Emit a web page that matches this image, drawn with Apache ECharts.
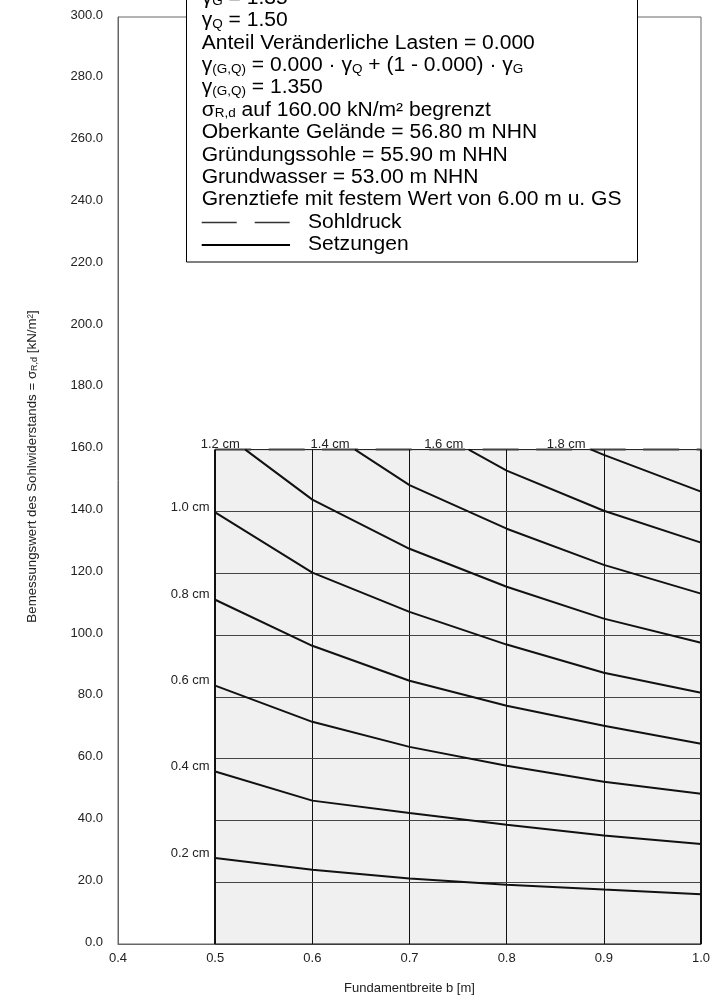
<!DOCTYPE html>
<html>
<head>
<meta charset="utf-8">
<script src="https://cdn.jsdelivr.net/npm/echarts@6/dist/echarts.min.js"></script>
<style>
html,body{margin:0;padding:0;background:#fff;}
#chart{width:724px;height:1002px;}
</style>
</head>
<body>
<div id="chart"></div>
<script>
// ---- data ----
const xTicksMin = 0.4, xTicksMax = 1.0, xInterval = 0.1;
const yMin = 0, yMax = 300, yInterval = 20;

// Sohldruck limit (sigma_R,d capped) and the evaluated width range
const sohldruckLimit = 160;
const widthRange = [0.5, 1.0];
const innerGridX = [0.6, 0.7, 0.8, 0.9];
const innerGridY = [20, 40, 60, 80, 100, 120, 140];

// settlement isolines [b (m), sigma (kN/m²)]
const settlementNames = ['0.2 cm','0.4 cm','0.6 cm','0.8 cm','1.0 cm','1.2 cm','1.4 cm','1.6 cm','1.8 cm'];
const s02 = [[0.5,27.8],[0.6,24.0],[0.7,21.2],[0.8,19.2],[0.9,17.6],[1.0,16.1]];
const s04 = [[0.5,55.8],[0.6,46.4],[0.7,42.4],[0.8,38.6],[0.9,35.1],[1.0,32.4]];
const s06 = [[0.5,83.6],[0.6,71.9],[0.7,63.8],[0.8,57.7],[0.9,52.5],[1.0,48.6]];
const s08 = [[0.5,111.4],[0.6,96.5],[0.7,85.2],[0.8,77.1],[0.9,70.6],[1.0,64.8]];
const s10 = [[0.5,139.7],[0.6,120.2],[0.7,107.5],[0.8,96.9],[0.9,87.8],[1.0,81.3]];
const s12 = [[0.531,160],[0.6,143.8],[0.7,127.9],[0.8,115.6],[0.9,105.3],[1.0,97.5]];
const s14 = [[0.644,160],[0.7,148.5],[0.8,134.4],[0.9,122.7],[1.0,113.4]];
const s16 = [[0.761,160],[0.8,153.2],[0.9,140.2],[1.0,129.9]];
const s18 = [[0.887,160],[0.9,158.3],[1.0,146.4]];
const settlementData = [s02,s04,s06,s08,s10,s12,s14,s16,s18];

const legendLines = [
  'γ{s|G} = 1.35',
  'γ{s|Q} = 1.50',
  'Anteil Veränderliche Lasten = 0.000',
  'γ{s|(G,Q)} = 0.000 · γ{s|Q} + (1 - 0.000) · γ{s|G}',
  'γ{s|(G,Q)} = 1.350',
  'σ{s|R,d} auf 160.00 kN/m² begrenzt',
  'Oberkante Gelände = 56.80 m NHN',
  'Gründungssohle = 55.90 m NHN',
  'Grundwasser = 53.00 m NHN',
  'Grenztiefe mit festem Wert von 6.00 m u. GS'
];
const legendSohldruck = 'Sohldruck';
const legendSetzungen = 'Setzungen';

// ---- chart ----
const FONT = '"Liberation Sans", Arial, Helvetica, sans-serif';
const chart = echarts.init(document.getElementById('chart'), null, {renderer: 'canvas'});

const markLineData = [];
innerGridX.forEach(x => markLineData.push([
  {coord: [x, 0], lineStyle: {color: '#111', width: 1, type: 'solid'}},
  {coord: [x, sohldruckLimit]}
]));
innerGridY.forEach(y => markLineData.push([
  {coord: [widthRange[0], y], lineStyle: {color: '#444', width: 1, type: 'solid'}},
  {coord: [widthRange[1], y]}
]));
widthRange.forEach(x => markLineData.push([
  {coord: [x, 0], lineStyle: {color: '#111', width: 2, type: 'solid'}},
  {coord: [x, sohldruckLimit]}
]));

const series = [];
series.push({
  name: legendSohldruck,
  type: 'line',
  data: [[widthRange[0], sohldruckLimit], [widthRange[1], sohldruckLimit]],
  symbol: 'none',
  silent: true,
  z: 3,
  lineStyle: {color: '#444', width: 2, type: [36, 17.5]},
  markArea: {
    silent: true,
    itemStyle: {color: '#f0f0f0', borderColor: '#111', borderWidth: 1},
    data: [[{coord: [widthRange[0], 0]}, {coord: [widthRange[1], sohldruckLimit]}]]
  },
  markLine: {
    silent: true,
    symbol: ['none', 'none'],
    label: {show: false},
    animation: false,
    data: markLineData
  }
});

settlementData.forEach((d, i) => {
  series.push({
    name: settlementNames[i],
    type: 'line',
    z: 5,
    symbol: 'circle',
    symbolSize: 1,
    showAllSymbol: true,
    itemStyle: {color: '#111'},
    lineStyle: {color: '#111', width: 2},
    silent: true,
    data: d.map((p, j) => j === 0 ? {
      value: p,
      label: {
        show: true,
        formatter: settlementNames[i],
        position: 'left',
        distance: 5,
        offset: [0, -5],
        fontFamily: FONT,
        fontSize: 13,
        color: '#222'
      }
    } : {value: p})
  });
});

const graphics = [];
const boxLeft = 186.5, boxRight = 637.5, boxBottom = 262;
graphics.push({
  type: 'rect', z: 100,
  shape: {x: boxLeft, y: -30, width: boxRight - boxLeft, height: boxBottom + 30},
  style: {fill: '#fff', stroke: '#000', lineWidth: 1}
});
const lineTop = -1.5, linePitch = 22.4, textX = 201.7;
legendLines.forEach((t, i) => {
  graphics.push({
    type: 'text', z: 101,
    x: textX, y: lineTop + i * linePitch,
    scaleX: 1.08,
    style: {
      text: t,
      fontFamily: FONT, fontSize: 19.5, fill: '#000',
      align: 'left', verticalAlign: 'middle',
      textAlign: 'left', textVerticalAlign: 'middle',
      rich: {s: {fontFamily: FONT, fontSize: 12.5, fill: '#000', verticalAlign: 'bottom'}}
    }
  });
});
const yS = lineTop + 10 * linePitch;
const yZ = lineTop + 11 * linePitch;
graphics.push({
  type: 'line', z: 101,
  shape: {x1: 201.7, y1: yS, x2: 290, y2: yS},
  style: {stroke: '#333', lineWidth: 1.7, lineDash: [35, 18]}
});
graphics.push({
  type: 'line', z: 101,
  shape: {x1: 201.7, y1: yZ, x2: 290, y2: yZ},
  style: {stroke: '#000', lineWidth: 2}
});
[[legendSohldruck, yS], [legendSetzungen, yZ]].forEach(([t, y]) => {
  graphics.push({
    type: 'text', z: 101, x: 308, y: y, scaleX: 1.08,
    style: {text: t, fontFamily: FONT, fontSize: 19.5, fill: '#000',
      align: 'left', verticalAlign: 'middle', textAlign: 'left', textVerticalAlign: 'middle'}
  });
});

chart.setOption({
  animation: false,
  backgroundColor: '#fff',
  textStyle: {fontFamily: FONT},
  grid: {left: 118, right: 23, top: 17, bottom: 58, show: true, borderColor: '#666', borderWidth: 1, backgroundColor: 'transparent'},
  xAxis: {
    type: 'value', min: xTicksMin, max: xTicksMax, interval: xInterval,
    name: 'Fundamentbreite b [m]', nameLocation: 'middle', nameGap: 38,
    nameTextStyle: {fontFamily: FONT, fontSize: 13, color: '#222'},
    axisLine: {show: true, lineStyle: {color: '#666', width: 1}},
    axisTick: {show: false},
    splitLine: {show: false},
    axisLabel: {fontFamily: FONT, fontSize: 13, color: '#222', margin: 8, formatter: v => v.toFixed(1)}
  },
  yAxis: {
    type: 'value', min: yMin, max: yMax, interval: yInterval,
    name: 'Bemessungswert des Sohlwiderstands = σ{s|R,d} [kN/m²]',
    nameLocation: 'middle', nameGap: 79,
    nameTextStyle: {fontFamily: FONT, fontSize: 13.3, color: '#222', padding: [0, 0, 0, 28],
      rich: {s: {fontFamily: FONT, fontSize: 9, color: '#222', verticalAlign: 'bottom'}}},
    axisLine: {show: true, lineStyle: {color: '#666', width: 1}},
    axisTick: {show: false},
    splitLine: {show: false},
    axisLabel: {fontFamily: FONT, fontSize: 13, color: '#222', margin: 15,
      verticalAlign: 'bottom', lineHeight: 4, formatter: v => v.toFixed(1)}
  },
  graphic: graphics,
  series: series
});
</script>
</body>
</html>
